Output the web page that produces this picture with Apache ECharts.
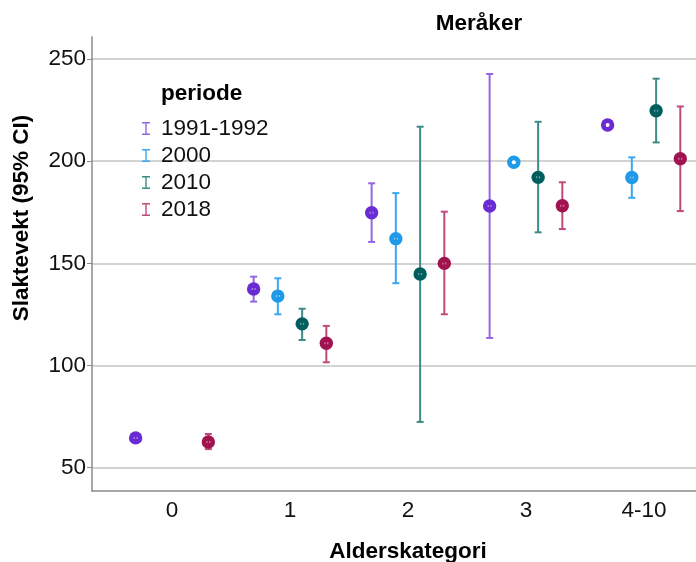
<!DOCTYPE html>
<html>
<head>
<meta charset="utf-8">
<script src="https://cdn.jsdelivr.net/npm/echarts@6/dist/echarts.min.js"></script>
<style>
html,body{margin:0;padding:0;background:#fff;}
#c{width:696px;height:562px;}
</style>
</head>
<body>
<div id="c"></div>
<script>
// ---- data ----
const categories = ['0', '1', '2', '3', '4-10'];
const periods = ['1991-1992', '2000', '2010', '2018'];
const yTicks = [50, 100, 150, 200, 250];

const mean1991 = [64.6, 137.5, 174.8, 178.1, 217.7];
const lo1991   = [63.4, 131.3, 160.5, 113.5, null];
const hi1991   = [65.9, 143.5, 189.2, 242.7, null];

const mean2000 = [null, 134.0, 162.1, 199.5, 192.0];
const lo2000   = [null, 125.1, 140.3, null, 182.1];
const hi2000   = [null, 142.7, 184.4, null, 201.9];

const mean2010 = [null, 120.4, 144.8, 192.1, 224.7];
const lo2010   = [null, 112.5, 72.4, 165.2, 209.2];
const hi2010   = [null, 127.8, 216.9, 219.3, 240.4];

const mean2018 = [62.6, 110.9, 150.0, 178.2, 201.2];
const lo2018   = [59.1, 101.6, 125.1, 166.8, 175.6];
const hi2018   = [66.5, 119.4, 175.3, 189.7, 226.8];

// ---- styling ----
const markerColors = ['#6a2bd3', '#1f9ae8', '#005e5e', '#a1134f'];
const barColors = ['#9566e0', '#3aa7ee', '#3e8a89', '#c2497c'];
const offsets = [-0.308, -0.103, 0.103, 0.308];
const FONT = 'Liberation Sans, Arial, Helvetica, sans-serif';
const FS = 22.5;

const seriesData = [
  [mean1991, lo1991, hi1991],
  [mean2000, lo2000, hi2000],
  [mean2010, lo2010, hi2010],
  [mean2018, lo2018, hi2018]
];

function buildData(sIdx) {
  const [m, lo, hi] = seriesData[sIdx];
  const out = [];
  for (let i = 0; i < categories.length; i++) {
    if (m[i] == null) continue;
    out.push([i + offsets[sIdx], m[i], lo[i] == null ? '-' : lo[i], hi[i] == null ? '-' : hi[i]]);
  }
  return out;
}

function makeRender(sIdx) {
  return function (params, api) {
    const x = api.value(0), m = api.value(1), lo = api.value(2), hi = api.value(3);
    const c = api.coord([x, m]);
    const children = [];
    const hasCI = !isNaN(lo) && !isNaN(hi) && lo !== hi;
    if (hasCI) {
      const pLo = api.coord([x, lo]);
      const pHi = api.coord([x, hi]);
      const st = { stroke: barColors[sIdx], lineWidth: 2 };
      children.push({ type: 'line', shape: { x1: c[0], y1: pLo[1], x2: c[0], y2: pHi[1] }, style: st });
      children.push({ type: 'line', shape: { x1: c[0] - 3.5, y1: pLo[1], x2: c[0] + 3.5, y2: pLo[1] }, style: st });
      children.push({ type: 'line', shape: { x1: c[0] - 3.5, y1: pHi[1], x2: c[0] + 3.5, y2: pHi[1] }, style: st });
    }
    children.push({ type: 'circle', shape: { cx: c[0], cy: c[1], r: 6.7 }, style: { fill: markerColors[sIdx] } });
    if (hasCI) {
      children.push({ type: 'rect', shape: { x: c[0] - 2, y: c[1] - 1, width: 1.2, height: 2 }, style: { fill: 'rgba(255,255,255,0.45)' } });
      children.push({ type: 'rect', shape: { x: c[0] + 0.8, y: c[1] - 1, width: 1.2, height: 2 }, style: { fill: 'rgba(255,255,255,0.45)' } });
    } else {
      children.push({ type: 'circle', shape: { cx: c[0], cy: c[1], r: 2 }, style: { fill: '#ffffff' } });
    }
    return { type: 'group', children: children };
  };
}

const series = periods.map((p, s) => ({
  name: p,
  type: 'custom',
  renderItem: makeRender(s),
  itemStyle: { color: barColors[s] },
  encode: { x: 0, y: 1 },
  data: buildData(s),
  clip: false,
  z: 3
}));

const iconPath = 'path://M0,0 H8 V1.4 H4.7 V11.6 H8 V13 H0 V11.6 H3.3 V1.4 H0 Z';

const chart = echarts.init(document.getElementById('c'), null, { renderer: 'canvas' });
chart.setOption({
  animation: false,
  backgroundColor: '#ffffff',
  textStyle: { fontFamily: FONT },
  grid: { left: 92, right: 0, top: 37, bottom: 71 },
  xAxis: {
    type: 'value',
    min: -0.678,
    max: 4.441,
    axisLine: { show: true, onZero: false, lineStyle: { color: '#8a8a8a', width: 1.5 } },
    axisTick: { show: false },
    splitLine: { show: false },
    axisLabel: {
      customValues: [0, 1, 2, 3, 4],
      formatter: v => categories[Math.round(v)],
      fontSize: FS, color: '#111', margin: 8, fontFamily: FONT
    }
  },
  yAxis: {
    type: 'value',
    min: 38.6,
    max: 260.8,
    axisLine: { show: true, onZero: false, lineStyle: { color: '#8a8a8a', width: 1.5 } },
    axisTick: { show: true, customValues: yTicks, length: 5, lineStyle: { color: '#8a8a8a', width: 1 } },
    splitLine: { show: true, lineStyle: { color: '#d3d3d3', width: 2 } },
    axisLabel: { customValues: yTicks, fontSize: FS, color: '#111', margin: 6, fontFamily: FONT }
  },
  legend: {
    orient: 'vertical',
    left: 137,
    top: 112,
    itemWidth: 8,
    itemHeight: 13,
    itemGap: 4,
    icon: iconPath,
    textStyle: { fontSize: FS, color: '#111', fontFamily: FONT, padding: [0, 0, 0, 6] },
    data: periods.map((p, s) => ({ name: p, icon: iconPath, itemStyle: { color: barColors[s] } }))
  },
  graphic: [
    { type: 'text', style: { text: 'Meråker', font: 'bold ' + FS + 'px ' + FONT, fill: '#000', x: 479, y: 24, textAlign: 'center', textVerticalAlign: 'middle' } },
    { type: 'text', style: { text: 'periode', font: 'bold ' + FS + 'px ' + FONT, fill: '#000', x: 161, y: 94, textAlign: 'left', textVerticalAlign: 'middle' } },
    { type: 'text', style: { text: 'Alderskategori', font: 'bold ' + FS + 'px ' + FONT, fill: '#000', x: 408, y: 552, textAlign: 'center', textVerticalAlign: 'middle' } },
    { type: 'text', rotation: Math.PI / 2, x: 22, y: 218, style: { text: 'Slaktevekt (95% CI)', font: 'bold ' + FS + 'px ' + FONT, fill: '#000', x: 0, y: 0, textAlign: 'center', textVerticalAlign: 'middle' } }
  ],
  series: series
});
</script>
</body>
</html>
